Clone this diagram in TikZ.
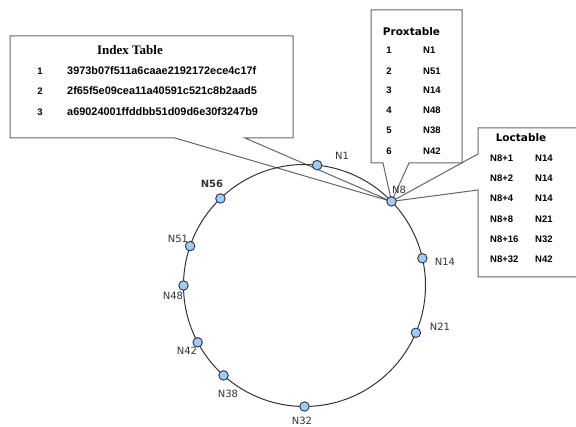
\documentclass[tikz,border=0pt]{standalone}
\usepackage{fontspec}
\setmainfont{Liberation Sans}
\newfontfamily\ringfont{DejaVu Sans}
\newfontfamily\headfont{Liberation Serif}
\usetikzlibrary{backgrounds}
\newlength{\du}
\setlength{\du}{1pt}
\definecolor{dotfill}{rgb}{0.600000, 0.800000, 1.000000}
\definecolor{dotline}{rgb}{0.200000, 0.200000, 0.200000}
\definecolor{boxline}{rgb}{0.400000, 0.400000, 0.400000}
\definecolor{labelcolor}{rgb}{0.200000, 0.200000, 0.200000}
\tikzset{
  ringdot/.style={circle,draw=dotline,fill=dotfill,line width=0.9\du,minimum size=9.5\du,inner sep=0pt},
  ringlabel/.style={font=\ringfont\fontsize{10}{12}\selectfont,text=labelcolor,inner sep=0pt},
  callout/.style={draw=boxline,line width=1\du},
  cell/.style={font=\bfseries\fontsize{9.5}{11}\selectfont,inner sep=0pt},
  hashcell/.style={font=\bfseries\fontsize{10.9}{12}\selectfont,inner sep=0pt,anchor=west},
  tabtitle/.style={font=\ringfont\bfseries\fontsize{10.5}{12}\selectfont,inner sep=0pt},
}
\begin{document}
\begin{tikzpicture}
\useasboundingbox (0\du,0\du) rectangle (576\du,427\du);
% ring
\coordinate (center) at (304.5\du,141.5\du);
\draw[dotline,line width=1\du] (center) circle (121\du);
\node[ringdot] (n1) at ([shift={(84:121\du)}]center) {};
\node[ringdot] (n8) at ([shift={(44:121\du)}]center) {};
\node[ringdot] (n14) at ([shift={(13:121\du)}]center) {};
\node[ringdot] (n21) at ([shift={(-23:121\du)}]center) {};
\node[ringdot] (n32) at ([shift={(-90:121\du)}]center) {};
\node[ringdot] (n38) at ([shift={(-132:121\du)}]center) {};
\node[ringdot] (n42) at ([shift={(-152:121\du)}]center) {};
\node[ringdot] (n48) at ([shift={(180:121\du)}]center) {};
\node[ringdot] (n51) at ([shift={(161:121\du)}]center) {};
\node[ringdot] (n56) at ([shift={(134:121\du)}]center) {};
% ring labels
\node[ringlabel] (n1label) at (342\du,271\du) {N1};
\node[ringlabel] (n8label) at (399\du,237\du) {N8};
\node[ringlabel] (n14label) at (445\du,165\du) {N14};
\node[ringlabel] (n21label) at (440\du,100\du) {N21};
\node[ringlabel] (n32label) at (302\du,6.5\du) {N32};
\node[ringlabel] (n38label) at (228\du,33\du) {N38};
\node[ringlabel] (n42label) at (187\du,76\du) {N42};
\node[ringlabel] (n48label) at (173\du,131\du) {N48};
\node[ringlabel] (n51label) at (178\du,188\du) {N51};
\node[ringlabel,font=\ringfont\bfseries\fontsize{10}{12}\selectfont] (n56label) at (212\du,243\du) {N56};
% callouts
\begin{pgfonlayer}{background}
\draw[callout] (10\du,391\du) -- (293\du,391\du) -- (293\du,289\du) -- (245\du,289\du) -- (n8.center) -- (175\du,289\du) -- (10\du,289\du) -- cycle;
\draw[callout] (371\du,417\du) -- (462\du,417\du) -- (462\du,264\du) -- (409\du,264\du) -- (n8.center) -- (383\du,264\du) -- (371\du,264\du) -- cycle;
\draw[callout] (478\du,299\du) -- (590\du,299\du) -- (590\du,150\du) -- (478\du,150\du) -- (478\du,237\du) -- (n8.center) -- (478\du,273\du) -- cycle;
\end{pgfonlayer}
% index table
\node[font=\headfont\bfseries\fontsize{13}{15}\selectfont,inner sep=0pt] (indextitle) at (130\du,377\du) {Index Table};
\node[cell] (idx1) at (40\du,356\du) {1};
\node[cell] (idx2) at (40\du,336\du) {2};
\node[cell] (idx3) at (40\du,315\du) {3};
\node[hashcell] (hash1) at (67\du,356\du) {3973b07f511a6caae2192172ece4c17f};
\node[hashcell] (hash2) at (67\du,336\du) {2f65f5e09cea11a40591c521c8b2aad5};
\node[hashcell] (hash3) at (67\du,315\du) {a69024001ffddbb51d09d6e30f3247b9};
% proxtable
\node[tabtitle] (proxtitle) at (411.5\du,395\du) {Proxtable};
\node[cell] (prox1) at (389\du,377\du) {1};
\node[cell] (prox2) at (389\du,356\du) {2};
\node[cell] (prox3) at (389\du,337\du) {3};
\node[cell] (prox4) at (389\du,317\du) {4};
\node[cell] (prox5) at (389\du,297\du) {5};
\node[cell] (prox6) at (389\du,276\du) {6};
\node[cell,anchor=west] (proxn1) at (423\du,377\du) {N1};
\node[cell,anchor=west] (proxn2) at (423\du,356\du) {N51};
\node[cell,anchor=west] (proxn3) at (423\du,337\du) {N14};
\node[cell,anchor=west] (proxn4) at (423\du,317\du) {N48};
\node[cell,anchor=west] (proxn5) at (423\du,297\du) {N38};
\node[cell,anchor=west] (proxn6) at (423\du,276\du) {N42};
% loctable
\node[tabtitle] (loctitle) at (521\du,289\du) {Loctable};
\node[cell,anchor=west] (loc1) at (490\du,269\du) {N8+1};
\node[cell,anchor=west] (loc2) at (490\du,249\du) {N8+2};
\node[cell,anchor=west] (loc3) at (490\du,229\du) {N8+4};
\node[cell,anchor=west] (loc4) at (490\du,208\du) {N8+8};
\node[cell,anchor=west] (loc5) at (490\du,188\du) {N8+16};
\node[cell,anchor=west] (loc6) at (490\du,168\du) {N8+32};
\node[cell,anchor=west] (locn1) at (535\du,269\du) {N14};
\node[cell,anchor=west] (locn2) at (535\du,249\du) {N14};
\node[cell,anchor=west] (locn3) at (535\du,229\du) {N14};
\node[cell,anchor=west] (locn4) at (535\du,208\du) {N21};
\node[cell,anchor=west] (locn5) at (535\du,188\du) {N32};
\node[cell,anchor=west] (locn6) at (535\du,168\du) {N42};
\end{tikzpicture}
\end{document}
